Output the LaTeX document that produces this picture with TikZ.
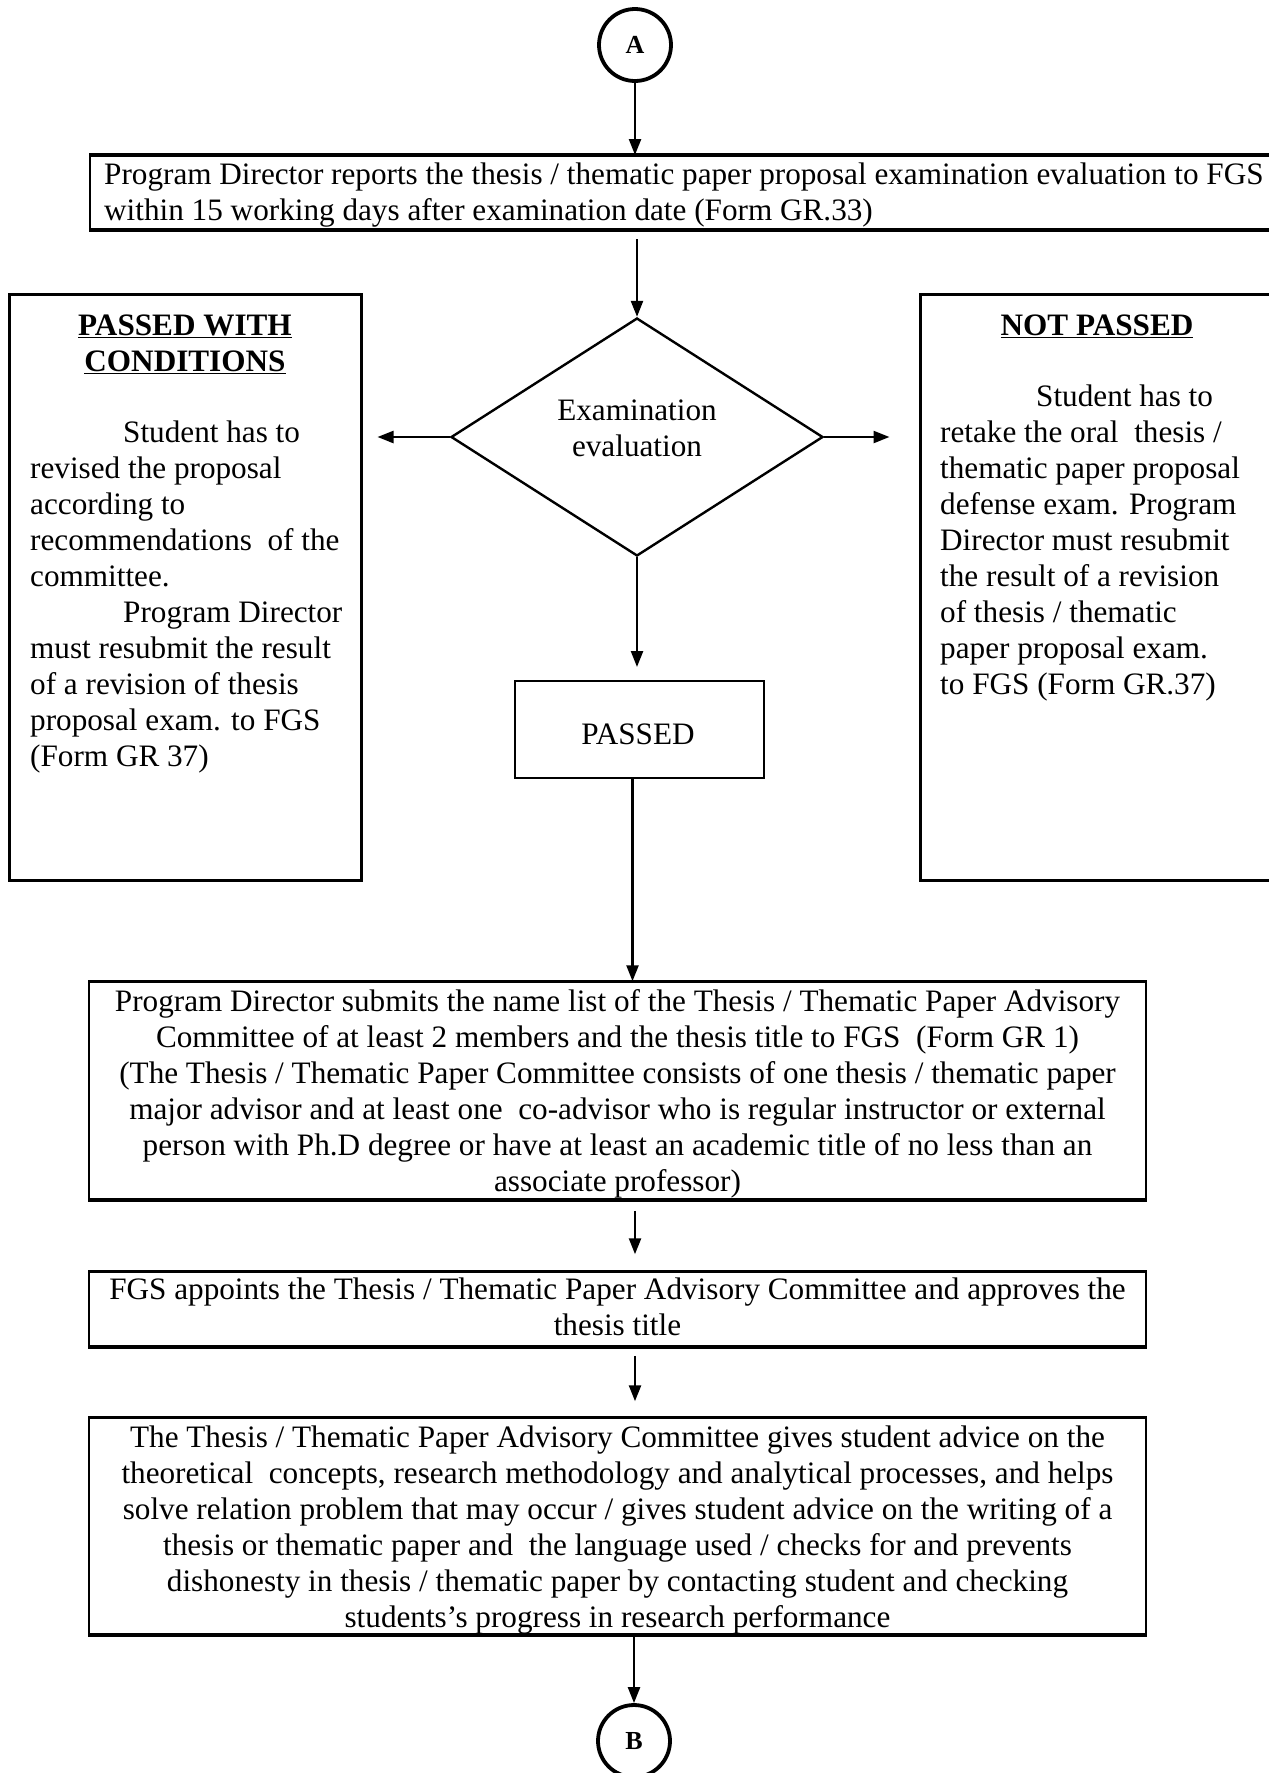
\documentclass[tikz,border=0pt]{standalone}
\usepackage{fontspec}
\setmainfont{Liberation Serif}
\usetikzlibrary{arrows.meta,shapes.geometric,calc}
\begin{document}
\begin{tikzpicture}[x=1pt,y=-1pt,
  box/.style={draw, line width=1.5pt, inner sep=0pt},
  sidebox/.style={draw, line width=3pt, inner sep=0pt},
  arr/.style={line width=2.4pt, -{Triangle[length=16pt,width=12pt]}},
  conn/.style={circle, draw, line width=3.8pt, minimum size=72pt, inner sep=0pt, font=\fontsize{26}{30}\selectfont\bfseries},
  txt/.style={inner sep=0pt, font=\fontsize{31.2}{36}\selectfont},
  ttl/.style={inner sep=0pt, font=\fontsize{31.2}{36}\selectfont\bfseries},
  thick edge/.style={line width=3.5pt}
]
\useasboundingbox (0,0) rectangle (1269,1773);

% connectors A and B
\node[conn] (A) at (635,45) {A};
\node[conn] (B) at (634,1741) {B};

% box 1
\node[box, line width=2pt, minimum width=1190pt, minimum height=73pt] (b1) at (685,192.5) {};
\node[txt, anchor=base west] (t1) at (104,184) {\begin{tabular}[t]{@{}l@{}}Program Director reports the thesis / thematic paper proposal examination evaluation to FGS\\within 15 working days after examination date (Form GR.33)\end{tabular}};

% decision
\node[diamond, draw, line width=2.4pt, minimum width=372pt, minimum height=238pt, inner sep=0pt] (dia) at (637,437) {};
\node[txt, anchor=base] (dtxt) at (637,420) {\begin{tabular}[t]{@{}c@{}}Examination\\evaluation\end{tabular}};

% passed with conditions
\node[sidebox, minimum width=352pt, minimum height=586pt] (pwc) at (185,587) {};
\node[ttl, anchor=base] (pwct) at (185,335) {\begin{tabular}[t]{@{}c@{}}\underline{PASSED WITH}\\\underline{CONDITIONS}\end{tabular}};
\node[txt, anchor=base west] (pwcb) at (30,442) {\begin{tabular}[t]{@{}l@{}}\hspace*{93pt}Student has to\\revised the proposal\\according to\\recommendations\ \ of the\\committee.\\\hspace*{93pt}Program Director\\must resubmit the result\\of a revision of thesis\\proposal exam. to FGS\\(Form GR 37)\end{tabular}};

% not passed
\node[sidebox, minimum width=360pt, minimum height=586pt] (np) at (1100,587) {};
\node[ttl, anchor=base] (npt) at (1097,335) {\underline{NOT PASSED}};
\node[txt, anchor=base west] (npb) at (940,406) {\begin{tabular}[t]{@{}l@{}}\hspace*{96pt}Student has to\\retake the oral\ \ thesis /\\thematic paper proposal\\defense exam. Program\\Director must resubmit\\the result of a revision\\of thesis / thematic\\paper proposal exam.\\to FGS (Form GR.37)\end{tabular}};

% passed
\node[draw, line width=2pt, minimum width=249pt, minimum height=97pt, inner sep=0pt] (pas) at (639.5,729.5) {};
\node[txt, anchor=base] (pastxt) at (638,744) {PASSED};

% box 2
\node[box, minimum width=1057pt, minimum height=217pt] (b2) at (617.5,1090.5) {};
\node[txt, anchor=base] (t2) at (617.5,1011) {\begin{tabular}[t]{@{}c@{}}Program Director submits the name list of the Thesis / Thematic Paper Advisory\\Committee of at least 2 members and the thesis title to FGS\ \ (Form GR 1)\\(The Thesis / Thematic Paper Committee consists of one thesis / thematic paper\\major advisor and at least one\ \ co-advisor who is regular instructor or external\\person with Ph.D degree or have at least an academic title of no less than an\\associate professor)\end{tabular}};

% box 3
\node[box, minimum width=1057pt, minimum height=74pt] (b3) at (617.5,1309) {};
\node[txt, anchor=base] (t3) at (617.5,1299) {\begin{tabular}[t]{@{}c@{}}FGS appoints the Thesis / Thematic Paper Advisory Committee and approves the\\thesis title\end{tabular}};

% box 4
\node[box, minimum width=1057pt, minimum height=216pt] (b4) at (617.5,1526) {};
\node[txt, anchor=base] (t4) at (617.5,1447) {\begin{tabular}[t]{@{}c@{}}The Thesis / Thematic Paper Advisory Committee gives student advice on the\\theoretical\ \ concepts, research methodology and analytical processes, and helps\\solve relation problem that may occur / gives student advice on the writing of a\\thesis or thematic paper and\ \ the language used / checks for and prevents\\dishonesty in thesis / thematic paper by contacting student and checking\\students's progress in research performance\end{tabular}};

% thicker top and bottom edges
\foreach \bx in {b1,b2,b3,b4}{
  \draw[thick edge] (\bx.north west) -- (\bx.north east);
  \draw[thick edge] (\bx.south west) -- (\bx.south east);
}

% connectors
\draw[arr] (A.south) -- (A.south |- b1.north);
\draw[arr, shorten <=9pt] (dia.north |- b1.south) -- (dia.north);
\draw[arr, shorten >=15pt] (dia.west) -- (dia.west -| pwc.east);
\draw[arr, shorten >=29pt] (dia.east) -- (dia.east -| np.west);
\draw[arr, shorten >=13pt] (dia.south) -- (dia.south |- pas.north);
\draw[arr] ([xshift=-7pt]pas.south) -- ([xshift=-7pt]pas.south |- b2.north);
\draw[arr, shorten <=11pt, shorten >=17pt] (b2.south -| A) -- (b3.north -| A);
\draw[arr, shorten <=9pt, shorten >=16pt] (b3.south -| A) -- (b4.north -| A);
\draw[arr] (b4.south -| B) -- (B.north);
\end{tikzpicture}
\end{document}
